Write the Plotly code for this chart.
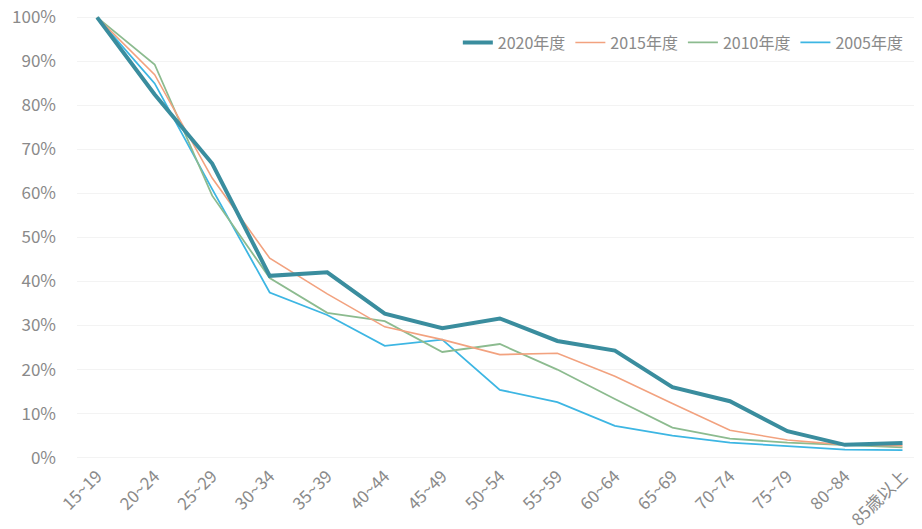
import plotly.graph_objects as go

# age groups on the x axis
age_groups = ["15~19", "20~24", "25~29", "30~34", "35~39", "40~44", "45~49",
              "50~54", "55~59", "60~64", "65~69", "70~74", "75~79", "80~84", "85歳以上"]

# share in percent
y2020 = [100, 82.5, 66.8, 41.3, 42.1, 32.7, 29.4, 31.6, 26.5, 24.3, 16.0, 12.8, 6.0, 2.9, 3.3]
y2015 = [100, 87.0, 63.5, 45.3, 37.2, 29.7, 26.8, 23.4, 23.7, 18.5, 12.3, 6.2, 4.0, 2.9, 2.7]
y2010 = [100, 89.3, 59.5, 40.8, 32.9, 31.0, 24.0, 25.8, 20.0, 13.3, 6.8, 4.3, 3.4, 2.8, 2.3]
y2005 = [100, 85.0, 61.0, 37.5, 32.4, 25.4, 26.8, 15.4, 12.6, 7.2, 5.0, 3.4, 2.6, 1.8, 1.7]

series = [
    # name, values, colour, width, legend rank
    ("2005年度", y2005, "#3db6e3", 1.8, 4),
    ("2010年度", y2010, "#8cbb8f", 1.8, 3),
    ("2015年度", y2015, "#f2a27f", 1.6, 2),
    ("2020年度", y2020, "#3a8d9e", 4.0, 1),
]

font_family = "Noto Sans CJK JP"
grey = "#8a8a8a"

fig = go.Figure()
for name, vals, color, width, rank in series:
    fig.add_trace(go.Scatter(
        x=age_groups, y=[v / 100 for v in vals],
        mode="lines", name=name, legendrank=rank,
        line=dict(color=color, width=width),
    ))

# the page body has an 8px margin, so the figure is a bit smaller than the window
fig.update_layout(
    width=914, height=521,
    margin=dict(l=69, r=8, t=5, b=67),
    paper_bgcolor="white", plot_bgcolor="white",
    font=dict(family=font_family, color=grey, size=15),
    legend=dict(orientation="h", x=0.455, xanchor="left", y=0.972, yanchor="top",
                font=dict(size=16, color=grey), bgcolor="rgba(0,0,0,0)",
                itemwidth=30, tracegroupgap=0),
    xaxis=dict(type="category", range=[-0.35, 14.2], tickangle=-45,
               showgrid=False, showline=False, ticks="", automargin=False,
               tickfont=dict(size=17, color=grey)),
    yaxis=dict(range=[-0.01, 1.01], tickformat=".0%", dtick=0.1,
               showgrid=True, gridcolor="#f3f3f3", zeroline=False,
               showline=False, ticks="", ticklabelstandoff=20, automargin=False,
               ticklabeloverflow="allow",
               tickfont=dict(size=17, color=grey)),
)

fig.write_html("out.html")
